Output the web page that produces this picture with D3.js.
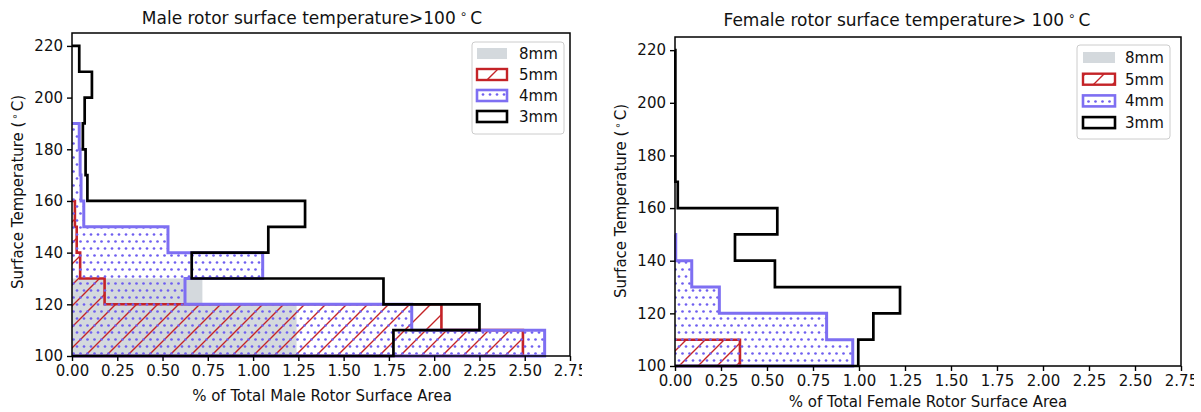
<!DOCTYPE html>
<html>
<head>
<meta charset="utf-8">
<script src="https://cdn.jsdelivr.net/npm/d3@7"></script>
<style>
  html, body { margin: 0; padding: 0; background: #fff; }
  svg { display: block; font-family: "DejaVu Sans", sans-serif; }
</style>
</head>
<body>
<svg id="fig" width="1201" height="412"></svg>
<script>
// Histogram bins: 10 °C wide, starting at 100 °C
const binStart = 100;
const binWidth = 10;

// % of total rotor surface area per temperature bin (bin 0 = 100–110 °C)
const male8mm   = [1.24, 1.24, 0.72];
const male5mm   = [2.49, 2.04, 0.18, 0.045, 0.026, 0.016];
const male4mm   = [2.61, 1.876, 0.624, 1.053, 0.53, 0.065, 0.05, 0.045, 0.04];
const male3mm   = [1.775, 2.25, 1.72, 0.661, 1.084, 1.287, 0.085, 0.075, 0.06, 0.07, 0.11, 0.04];

const female8mm = [];
const female5mm = [0.353];
const female4mm = [0.966, 0.824, 0.241, 0.091, 0.004];
const female3mm = [0.996, 1.078, 1.223, 0.543, 0.326, 0.556, 0.015, 0.002, 0.002, 0.002, 0.002, 0.002];

const seriesNames = ["8mm", "5mm", "4mm", "3mm"];
const xTicks = [0, 0.25, 0.5, 0.75, 1.0, 1.25, 1.5, 1.75, 2.0, 2.25, 2.5, 2.75];
const yTicks = [100, 120, 140, 160, 180, 200, 220];
const xDomain = [0, 2.75];
const yDomain = [100, 225];

const grayFill = "#d4d9dd";
const redCol = "#c42327";
const blueCol = "#7e6ff2";
const dotCol = "#6f5ff0";

const svg = d3.select("#fig");
const defs = svg.append("defs");

function makePatterns(id, hatchStep, dotStep) {
  const h = defs.append("pattern").attr("id", "hatch-" + id)
    .attr("patternUnits", "userSpaceOnUse")
    .attr("width", hatchStep).attr("height", hatchStep);
  const s = hatchStep;
  h.append("path")
    .attr("d", `M0,${s} L${s},0 M${-s/2},${s/2} L${s/2},${-s/2} M${s/2},${s*1.5} L${s*1.5},${s/2}`)
    .attr("stroke", redCol).attr("stroke-width", 1.4).attr("fill", "none");

  const d = dotStep;
  const p = defs.append("pattern").attr("id", "dots-" + id)
    .attr("patternUnits", "userSpaceOnUse")
    .attr("width", d).attr("height", 2 * d);
  [[d / 2, d / 2], [0, 1.5 * d], [d, 1.5 * d]].forEach(([cx, cy]) => {
    p.append("circle").attr("cx", cx).attr("cy", cy).attr("r", 1.35).attr("fill", dotCol);
  });
}

function drawPanel(cfg, data) {
  const g = svg.append("g");
  defs.append("clipPath").attr("id", "clip-" + cfg.id)
    .append("rect").attr("x", cfg.clipLeft).attr("y", 0)
    .attr("width", cfg.clipRight - cfg.clipLeft).attr("height", 412);
  g.attr("clip-path", `url(#clip-${cfg.id})`);
  makePatterns(cfg.id, cfg.hatchStep, cfg.dotStep);

  const x = d3.scaleLinear().domain(xDomain).range([cfg.left, cfg.right]);
  const y = d3.scaleLinear().domain(yDomain).range([cfg.bottom, cfg.top]);

  // horizontal step outline of a histogram
  function stepPoints(vals) {
    const pts = [[0, binStart]];
    vals.forEach((v, i) => {
      pts.push([v, binStart + i * binWidth]);
      pts.push([v, binStart + (i + 1) * binWidth]);
    });
    pts.push([0, binStart + vals.length * binWidth]);
    return pts;
  }
  const line = d3.line().x(d => x(d[0])).y(d => y(d[1]));

  const plot = g.append("g");

  // 8mm: filled gray
  if (data.s8.length) {
    plot.append("path").attr("d", line(stepPoints(data.s8)) + "Z")
      .attr("fill", grayFill).attr("stroke", "none");
  }
  // 5mm: red diagonal hatch
  if (data.s5.length) {
    plot.append("path").attr("d", line(stepPoints(data.s5)) + "Z")
      .attr("fill", `url(#hatch-${cfg.id})`).attr("stroke", "none");
    plot.append("path").attr("d", line(stepPoints(data.s5)))
      .attr("fill", "none").attr("stroke", redCol).attr("stroke-width", 2.6);
  }
  // 4mm: blue dot hatch
  if (data.s4.length) {
    plot.append("path").attr("d", line(stepPoints(data.s4)) + "Z")
      .attr("fill", `url(#dots-${cfg.id})`).attr("stroke", "none");
    plot.append("path").attr("d", line(stepPoints(data.s4)))
      .attr("fill", "none").attr("stroke", blueCol).attr("stroke-width", 3);
  }
  // 3mm: black outline only
  if (data.s3.length) {
    plot.append("path").attr("d", line(stepPoints(data.s3)))
      .attr("fill", "none").attr("stroke", "#000").attr("stroke-width", 2.7);
  }

  // axes
  const xAxis = d3.axisBottom(x).tickValues(xTicks).tickFormat(d3.format(".2f"))
    .tickSize(5).tickPadding(4);
  const yAxis = d3.axisLeft(y).tickValues(yTicks).tickFormat(d3.format("d"))
    .tickSize(5).tickPadding(4);
  const gx = g.append("g").attr("transform", `translate(0,${cfg.bottom})`).call(xAxis);
  const gy = g.append("g").attr("transform", `translate(${cfg.left},0)`).call(yAxis);
  [gx, gy].forEach(ax => {
    ax.attr("font-family", null).attr("font-size", null);
    ax.select(".domain").remove();
    ax.selectAll(".tick line").attr("stroke", "#000").attr("stroke-width", 1.4);
    ax.selectAll(".tick text").attr("fill", "#111")
      .style("font-size", "15px").style("font-family", "DejaVu Sans");
  });

  // frame
  g.append("rect").attr("x", cfg.left).attr("y", cfg.top)
    .attr("width", cfg.right - cfg.left).attr("height", cfg.bottom - cfg.top)
    .attr("fill", "none").attr("stroke", "#000").attr("stroke-width", 1.5);

  // title with superscript degree sign
  const t = g.append("text").attr("x", cfg.titleX).attr("y", cfg.titleY)
    .attr("text-anchor", "middle").style("font-size", "17px").attr("fill", "#111");
  t.append("tspan").text(cfg.title);
  t.append("tspan").attr("dx", 4).attr("dy", -6).style("font-size", "12px").text("\u2218");
  t.append("tspan").attr("dx", 3).attr("dy", 6).text("C");

  // x label
  g.append("text").attr("x", cfg.xLabelX).attr("y", cfg.xLabelY)
    .attr("text-anchor", "middle").style("font-size", "15px").attr("fill", "#111")
    .text(cfg.xLabel);

  // y label
  const yl = g.append("text")
    .attr("transform", `translate(${cfg.yLabelX},${cfg.yLabelY}) rotate(-90)`)
    .attr("text-anchor", "middle").style("font-size", "15px").attr("fill", "#111");
  yl.append("tspan").text("Surface Temperature (");
  yl.append("tspan").attr("dx", 2).attr("dy", -5).style("font-size", "10px").text("\u2218");
  yl.append("tspan").attr("dx", 2).attr("dy", 5).text("C)");

  // legend
  const lg = g.append("g");
  lg.append("rect").attr("x", cfg.legX).attr("y", cfg.legY)
    .attr("width", cfg.legW).attr("height", cfg.legH).attr("rx", 3)
    .attr("fill", "#fff").attr("fill-opacity", 0.85)
    .attr("stroke", "#cccccc").attr("stroke-width", 1);
  const fills = [grayFill, `url(#hatch-${cfg.id})`, `url(#dots-${cfg.id})`, "#fff"];
  const strokes = ["none", redCol, blueCol, "#000"];
  const widths = [0, 2.4, 2.6, 2.6];
  seriesNames.forEach((name, i) => {
    const cy = cfg.legRow0 + i * cfg.legRowStep;
    if (i === 1 || i === 2) {
      lg.append("rect").attr("x", cfg.legPatchX).attr("y", cy - 5.5)
        .attr("width", cfg.legPatchW).attr("height", 11).attr("fill", "#fff");
    }
    lg.append("rect").attr("x", cfg.legPatchX).attr("y", cy - 5.5)
      .attr("width", cfg.legPatchW).attr("height", 11)
      .attr("fill", fills[i]).attr("stroke", strokes[i]).attr("stroke-width", widths[i]);
    lg.append("text").attr("x", cfg.legTextX).attr("y", cy + 5.5)
      .style("font-size", "15px").attr("fill", "#111").text(name);
  });
}

drawPanel({
  id: "male", left: 72, right: 570, top: 33, bottom: 356,
  clipLeft: 0, clipRight: 582,
  hatchStep: 21, dotStep: 7,
  title: "Male rotor surface temperature>100", titleX: 312, titleY: 24,
  xLabel: "% of Total Male Rotor Surface Area", xLabelX: 322, xLabelY: 401,
  yLabelX: 23, yLabelY: 192,
  legX: 472, legY: 42, legW: 92, legH: 92,
  legPatchX: 477, legPatchW: 30, legTextX: 519, legRow0: 53.5, legRowStep: 21
}, { s8: male8mm, s5: male5mm, s4: male4mm, s3: male3mm });

drawPanel({
  id: "female", left: 675, right: 1181, top: 37, bottom: 366,
  clipLeft: 600, clipRight: 1194,
  hatchStep: 19, dotStep: 7,
  title: "Female rotor surface temperature> 100", titleX: 907, titleY: 26,
  xLabel: "% of Total Female Rotor Surface Area", xLabelX: 928, xLabelY: 407,
  yLabelX: 626, yLabelY: 201,
  legX: 1077, legY: 45, legW: 93, legH: 94,
  legPatchX: 1083, legPatchW: 32, legTextX: 1125, legRow0: 57.5, legRowStep: 21.7
}, { s8: female8mm, s5: female5mm, s4: female4mm, s3: female3mm });
</script>
</body>
</html>
